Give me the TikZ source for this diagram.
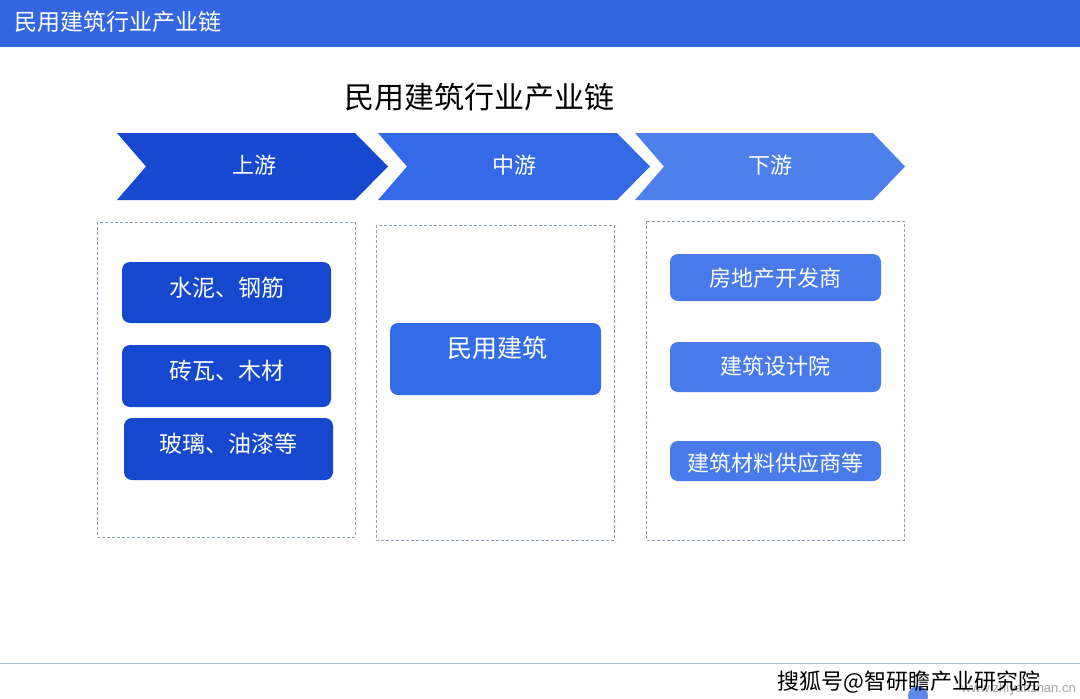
\documentclass[tikz,border=0pt]{standalone}
\usepackage{fontspec}
\setmainfont{Noto Sans CJK SC}
\newfontfamily\cjk{Noto Sans CJK SC}
\newfontfamily\latinsans{Liberation Sans}
\usetikzlibrary{positioning}
\definecolor{headblue}{RGB}{51,102,224}
\definecolor{chevA}{RGB}{22,72,208}
\definecolor{chevB}{RGB}{52,106,232}
\definecolor{chevC}{RGB}{78,128,236}
\definecolor{boxA}{RGB}{21,72,207}
\definecolor{boxB}{RGB}{50,108,230}
\definecolor{boxC}{RGB}{72,122,235}
\definecolor{dashgray}{RGB}{140,158,188}
\definecolor{linegray}{RGB}{175,190,215}
\tikzset{
  x=1pt, y=-1pt,
  chevtext/.style={text=white, font=\cjk\fontsize{22}{22}\selectfont, inner sep=0pt},
  groupbox/.style={draw=dashgray, dash pattern=on 3pt off 2pt, line width=0.7pt},
  itembox/.style={rounded corners=8pt, draw=none, inner sep=0pt},
  itemtext/.style={text=white, font=\cjk\fontsize{23}{23}\selectfont, inner sep=0pt},
}
\begin{document}
\begin{tikzpicture}
\useasboundingbox (0,0) rectangle (1080,699);
\fill[white] (0,0) rectangle (1080,699);
% header
\fill[headblue] (0,0) rectangle (1080,47);
\node[anchor=west, text=white, font=\cjk\fontsize{23}{23}\selectfont, inner sep=0pt] (head) at (14,22) {民用建筑行业产业链};
% title
\node[font=\cjk\fontsize{30}{30}\selectfont, inner sep=0pt] (title) at (479,97) {民用建筑行业产业链};
% chevrons
\fill[chevA] (117,133) -- (355,133) -- (388,166.5) -- (355,200) -- (117,200) -- (146,166.5) -- cycle;
\fill[chevB] (378,133) -- (617,133) -- (650,166.5) -- (617,200) -- (378,200) -- (407,166.5) -- cycle;
\fill[chevC] (635,133) -- (873,133) -- (905,166.5) -- (873,200) -- (635,200) -- (664,166.5) -- cycle;
\node[chevtext] (up) at (254,165) {上游};
\node[chevtext] (mid) at (514,165) {中游};
\node[chevtext] (down) at (770,165) {下游};
% group boxes
\draw[groupbox] (97,222) rectangle (355,537);
\draw[groupbox] (376,225) rectangle (614,540);
\draw[groupbox] (646,221) rectangle (904,540);
% upstream items
\fill[boxA, itembox] (122,262) rectangle (331,323);
\node[itemtext] (u1) at (226.5,288) {水泥、钢筋};
\fill[boxA, itembox] (122,345) rectangle (331,407);
\node[itemtext] (u2) at (226.5,371) {砖瓦、木材};
\fill[boxA, itembox] (124,418) rectangle (333,480);
\node[itemtext] (u3) at (228.5,444) {玻璃、油漆等};
% midstream
\fill[boxB, itembox] (390,323) rectangle (601,395);
\node[itemtext, font=\cjk\fontsize{25}{25}\selectfont] (m1) at (497,348) {民用建筑};
% downstream
\fill[boxC, itembox] (670,254) rectangle (881,301);
\node[itemtext, font=\cjk\fontsize{22}{22}\selectfont] (d1) at (775.5,278) {房地产开发商};
\fill[boxC, itembox] (670,342) rectangle (881,392);
\node[itemtext, font=\cjk\fontsize{22}{22}\selectfont] (d2) at (775.5,366) {建筑设计院};
\fill[boxC, itembox] (670,441) rectangle (881,481);
\node[itemtext, font=\cjk\fontsize{22}{22}\selectfont] (d3) at (775.5,463) {建筑材料供应商等};
% bottom line and source
\draw[linegray, line width=0.8pt] (0,663) -- (1080,663);
\fill[chevB!80!white] (918,696) circle (10);
\node[anchor=east, text=gray!70, font=\latinsans\fontsize{13}{13}\selectfont, inner sep=0pt] (web) at (1076,689) {www.zhiyanzhan.cn};
\node[anchor=west, text=black, font=\cjk\fontsize{22}{22}\selectfont, inner sep=0pt] (src) at (777,682) {搜狐号@智研瞻产业研究院};
\end{tikzpicture}
\end{document}
